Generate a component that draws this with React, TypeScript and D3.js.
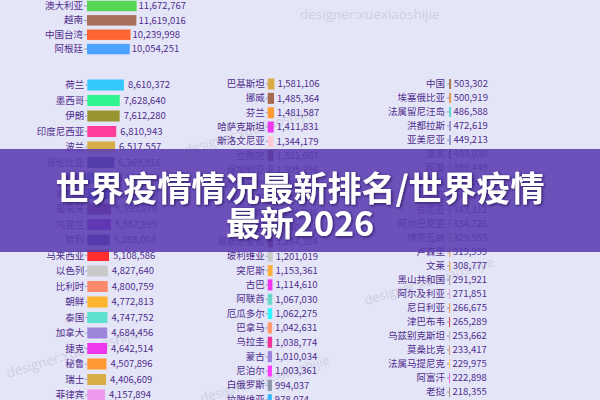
import React, { useEffect, useRef } from 'react';
import * as d3 from 'd3';

// ---------- data ----------
const topCountries = ['澳大利亚', '越南', '中国台湾', '阿根廷'];
const topValues = [11672767, 11619016, 10239998, 10054251];
const topColors = ['#55d655', '#a8705a', '#ff6633', '#4aa3ff'];

const leftCountries = ['荷兰', '墨西哥', '伊朗', '印度尼西亚', '波兰', '哥伦比亚', '希腊', '奥地利', '葡萄牙', '乌克兰', '智利', '马来西亚', '以色列', '比利时', '朝鲜', '泰国', '加拿大', '捷克', '秘鲁', '瑞士', '菲律宾'];
const leftValues = [8610372, 7628640, 7612280, 6810943, 6517557, 6369916, 6101379, 6081287, 5590870, 5557995, 5288003, 5108586, 4827640, 4800759, 4772813, 4747752, 4684456, 4642514, 4507896, 4406609, 4157894];
const leftColors = ['#35c8ff', '#2ef58f', '#97932f', '#ff3d9a', '#d9ad45', '#2f3f9e', '#3f74d4', '#2b6fd6', '#7a2e6e', '#8a15d6', '#2a3c9e', '#ff2d2d', '#c9c9c9', '#ff8a6a', '#ffb52e', '#5ee0cf', '#9b86dc', '#ee38ee', '#ff9a33', '#d9ad45', '#ee99ee'];

const midCountries = ['巴基斯坦', '挪威', '芬兰', '哈萨克斯坦', '斯洛文尼亚', '立陶宛', '保加利亚', '危地马拉', '克罗地亚', '黎巴嫩', '巴拉圭', '哥斯达黎加', '玻利维亚', '突尼斯', '古巴', '阿联酋', '厄瓜多尔', '巴拿马', '乌拉圭', '蒙古', '尼泊尔', '白俄罗斯', '拉脱维亚'];
const midValues = [1581106, 1485364, 1481587, 1411831, 1344179, 1321087, 1305296, 1288012, 1273907, 1256326, 1240811, 1234384, 1201019, 1153361, 1114610, 1067030, 1062275, 1042631, 1038774, 1010034, 1003361, 994037, 978074];
const midColors = ['#d9ad45', '#a86a50', '#ff9a33', '#ee38ee', '#ffc9d6', '#7a2e5e', '#9999cc', '#88aadd', '#7a3a6a', '#c07090', '#7a4a7a', '#7a2e5e', '#c9c9c9', '#ffb040', '#ee38ee', '#6ad8cc', '#33f5ff', '#ff9a6a', '#ee3399', '#9b86dc', '#ff3dff', '#8a98aa', '#35b8ff'];

const rightCountries = ['中国', '埃塞俄比亚', '法属留尼汪岛', '洪都拉斯', '亚美尼亚', '波黑', '阿曼', '北马其顿', '赞比亚', '肯尼亚', '阿尔巴尼亚', '博茨瓦纳', '卢森堡', '文莱', '黑山共和国', '阿尔及利亚', '尼日利亚', '津巴布韦', '乌兹别克斯坦', '莫桑比克', '法属马提尼克', '阿富汗', '老挝'];
const rightValues = [503302, 500919, 486588, 472619, 449213, 403030, 399449, 349924, 345050, 343312, 334726, 329953, 319959, 308777, 291921, 271851, 266675, 265289, 253662, 233417, 229975, 222898, 218355];
const rightColors = ['#a97a5a', '#e09a5a', '#5fd8d8', '#9a9ad0', '#8a9ad0', '#4a4a90', '#a0a0d0', '#8888cc', '#9999cc', '#8a9ad0', '#9a9ad0', '#999999', '#e0aa66', '#e0aa66', '#aaaaaa', '#e0aae0', '#e09a6a', '#e05555', '#bbbbbb', '#e09a7a', '#ffcc66', '#ee66ee', '#aa8a78'];

const titleLines = ['世界疫情情况最新排名/世界疫情', '最新2026'];
const watermarkText = 'designer:xuexiaoshijie';

// ---------- style ----------
const W = 600;
const H = 400;
const BG = '#e5e5f8';
const TEXT = '#4e2d8c';
const FONT = '"Noto Sans CJK SC", "Noto Sans", sans-serif';
const fmt = d3.format(',');

const x = d3.scaleLinear().domain([0, 12e6]).range([0, 51]);

type PanelProps = {
  names: string[];
  values: number[];
  colors: string[];
  left: number;
  first: number;
  step: number;
  pad: number;
  tick: number;
  tickPad: number;
  gap: number;
};

function BarPanel({ names, values, colors, left, first, step, pad, tick, tickPad, gap }: PanelProps) {
  const axisRef = useRef<SVGGElement>(null);
  const y0 = first - step / 2;
  const y = d3
    .scaleBand<string>()
    .domain(names)
    .range([y0, y0 + names.length * step])
    .paddingInner(pad)
    .paddingOuter(pad / 2);

  useEffect(() => {
    if (!axisRef.current) return;
    const g = d3.select(axisRef.current);
    g.call(d3.axisLeft(y).tickSize(tick).tickPadding(tickPad) as any);
    g.select('.domain').remove();
    g.attr('font-size', 9.5).attr('font-family', FONT);
    g.selectAll('.tick line').attr('stroke', '#9a94b4');
    g.selectAll('.tick text').attr('fill', TEXT);
  });

  return (
    <g transform={`translate(${left},0)`}>
      {names.map((n, i) => (
        <rect key={n} x={0} y={y(n)} width={x(values[i])} height={y.bandwidth()} fill={colors[i]} />
      ))}
      {names.map((n, i) => (
        <text
          key={n + 'v'}
          x={x(values[i]) + gap}
          y={(y(n) as number) + y.bandwidth() / 2}
          dy="0.35em"
          fontSize={9.5}
          fontFamily={FONT}
          fill={TEXT}
        >
          {fmt(values[i])}
        </text>
      ))}
      <g ref={axisRef} />
    </g>
  );
}

const marks = [
  { x: 300, y: 19, r: 0, s: 13.5 },
  { x: 186, y: 155, r: -17, s: 13 },
  { x: 8, y: 378, r: -17, s: 13.5 },
  { x: 366, y: 305, r: -17, s: 13 },
  { x: 202, y: 403, r: -17, s: 13 },
];

export default function App() {
  return (
    <svg
      width={W}
      height={H}
      viewBox={`0 0 ${W} ${H}`}
      style={{ position: 'fixed', left: 0, top: 0, display: 'block' }}
    >
      <defs>
        <filter id="tshadow" x="-10%" y="-30%" width="120%" height="160%">
          <feDropShadow dx="1" dy="1" stdDeviation="1.6" floodColor="#24104f" floodOpacity="0.85" />
        </filter>
      </defs>
      <rect width={W} height={H} fill={BG} />

      {marks.map((m, i) => (
        <text
          key={i}
          x={m.x}
          y={m.y}
          transform={`rotate(${m.r},${m.x},${m.y})`}
          fontSize={m.s}
          fontFamily='"Open Sans", "Noto Sans", sans-serif'
          fill="#cfcfe0"
        >
          {watermarkText}
        </text>
      ))}

      <BarPanel names={topCountries} values={topValues} colors={topColors} left={87} first={6} step={14.35} pad={0.27} tick={3} tickPad={1} gap={2} />
      <BarPanel names={leftCountries} values={leftValues} colors={leftColors} left={87.3} first={85} step={15.5} pad={0.29} tick={2} tickPad={1} gap={4} />
      <BarPanel names={midCountries} values={midCountries.length ? midValues : []} colors={midColors} left={267.7} first={84} step={14.35} pad={0.23} tick={2} tickPad={1} gap={3} />
      <BarPanel names={rightCountries} values={rightValues} colors={rightColors} left={449} first={84} step={14} pad={0.29} tick={2} tickPad={2} gap={2.5} />

      <rect x={0} y={149} width={W} height={103} fill="#5a3caf" fillOpacity={0.88} />
      <g filter="url(#tshadow)" fontFamily={FONT} fontWeight={700} fontSize={34} fill="#ffffff" textAnchor="middle">
        <text x={300} y={201}>{titleLines[0]}</text>
        <text x={300} y={236}>{titleLines[1]}</text>
      </g>
    </svg>
  );
}
